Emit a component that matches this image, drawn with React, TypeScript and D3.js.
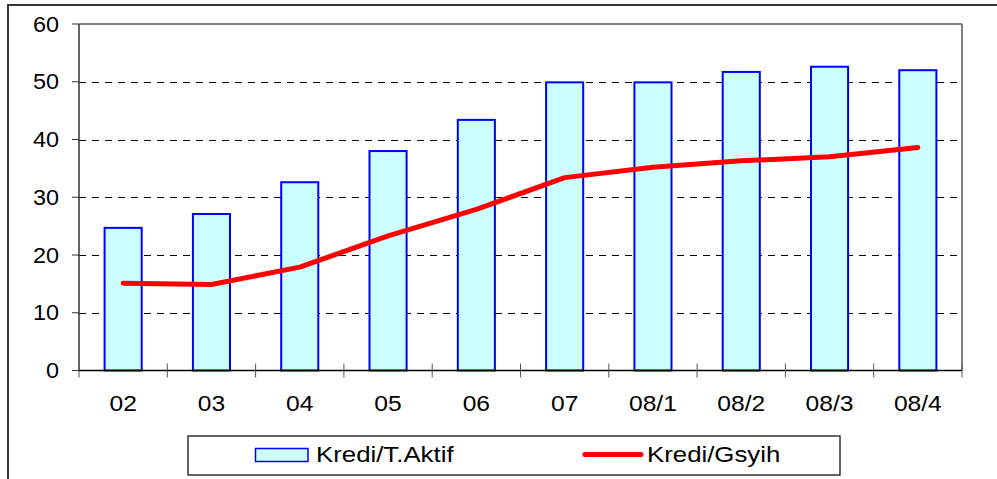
import React from "react";
import * as d3 from "d3";

const categories = ["02", "03", "04", "05", "06", "07", "08/1", "08/2", "08/3", "08/4"];
const krediTAktif = [24.7, 27.1, 32.6, 38.0, 43.4, 49.9, 49.9, 51.7, 52.6, 52.0];
const krediGsyih = [15.1, 14.9, 17.9, 23.3, 27.9, 33.4, 35.2, 36.3, 37.0, 38.6];
const yTicks = [0, 10, 20, 30, 40, 50, 60];
const seriesNames = ["Kredi/T.Aktif", "Kredi/Gsyih"];

const W = 997;
const H = 479;
const left = 79;
const right = 962;
const top = 24;
const bottom = 370.5;
const FONT = "'Liberation Sans', Arial, sans-serif";

export default function App() {
  const x = d3.scaleBand<string>().domain(categories).range([left, right]).paddingInner(0).paddingOuter(0);
  const y = d3.scaleLinear().domain([0, 60]).range([bottom, top]);
  const bw = x.bandwidth() * 0.42;
  const line = d3
    .line<number>()
    .x((_, i) => (x(categories[i]) as number) + x.bandwidth() / 2)
    .y((d) => y(d));

  const txt = (tx: number, ty: number, s: string, anchor: string, fs: number, sx: number, key?: string) => (
    <g key={key} transform={`translate(${tx},${ty}) scale(${sx},1)`}>
      <text x={0} y={0} textAnchor={anchor} fontFamily={FONT} fontSize={fs} fill="#000">
        {s}
      </text>
    </g>
  );

  return (
    <svg
      width={W}
      height={H}
      style={{ position: "absolute", left: 0, top: 0, background: "#fff" }}
    >
      <rect x={0} y={0} width={W} height={H} fill="#fff" />
      <rect x={8} y={5} width={1000} height={500} fill="none" stroke="#333" strokeWidth={2} />

      {/* gridlines */}
      {yTicks
        .filter((t) => t > 0 && t < 60)
        .map((t) => (
          <line
            key={"g" + t}
            x1={left}
            x2={right}
            y1={Math.round(y(t)) + 0.5}
            y2={Math.round(y(t)) + 0.5}
            stroke="#000"
            strokeWidth={1}
            strokeDasharray="7,6"
          />
        ))}
      {/* plot border top/right */}
      <line x1={left} x2={right} y1={top} y2={top} stroke="#808080" strokeWidth={2} />
      <line x1={right} x2={right} y1={top} y2={bottom} stroke="#808080" strokeWidth={2} />

      {/* bars */}
      {krediTAktif.map((v, i) => {
        const cx = (x(categories[i]) as number) + x.bandwidth() / 2;
        return (
          <rect
            key={"b" + i}
            x={cx - bw / 2}
            y={y(v)}
            width={bw}
            height={bottom - y(v)}
            fill="#CCFFFF"
            stroke="#0000FF"
            strokeWidth={2}
          />
        );
      })}

      {/* axes */}
      <line x1={left} x2={left} y1={top} y2={bottom} stroke="#333" strokeWidth={1.5} />
      <line x1={left} x2={right} y1={bottom} y2={bottom} stroke="#000" strokeWidth={1.5} />
      {yTicks.map((t) => (
        <line key={"yt" + t} x1={left - 7} x2={left} y1={y(t)} y2={y(t)} stroke="#333" strokeWidth={1} />
      ))}
      {[...categories.map((c) => x(c) as number), right].map((px, i) => (
        <line
          key={"xt" + i}
          x1={px}
          x2={px}
          y1={i === 0 ? bottom : bottom - 7}
          y2={bottom + 7}
          stroke="#555"
          strokeWidth={1}
        />
      ))}

      {/* line */}
      <path
        d={line(krediGsyih) || ""}
        fill="none"
        stroke="#FF0000"
        strokeWidth={5}
        strokeLinecap="round"
        strokeLinejoin="round"
      />

      {/* y labels */}
      {yTicks.map((t) => txt(59, y(t) + 7.5, String(t), "end", 21.5, 1.09, "yl" + t))}
      {/* x labels */}
      {categories.map((c) => txt((x(c) as number) + x.bandwidth() / 2, 411, c, "middle", 22, 1.12, "xl" + c))}

      {/* legend */}
      <rect x={188} y={436} width={652} height={39} fill="#fff" stroke="#333" strokeWidth={1.5} />
      <rect x={255.5} y={448.5} width={52.5} height={13} fill="#CCFFFF" stroke="#0000FF" strokeWidth={1.5} />
      {txt(316, 461.5, seriesNames[0], "start", 21.5, 1.2)}
      <line x1={585} x2={641} y1={454.5} y2={454.5} stroke="#FF0000" strokeWidth={5} strokeLinecap="round" />
      {txt(647, 461.5, seriesNames[1], "start", 21.5, 1.2)}
    </svg>
  );
}
